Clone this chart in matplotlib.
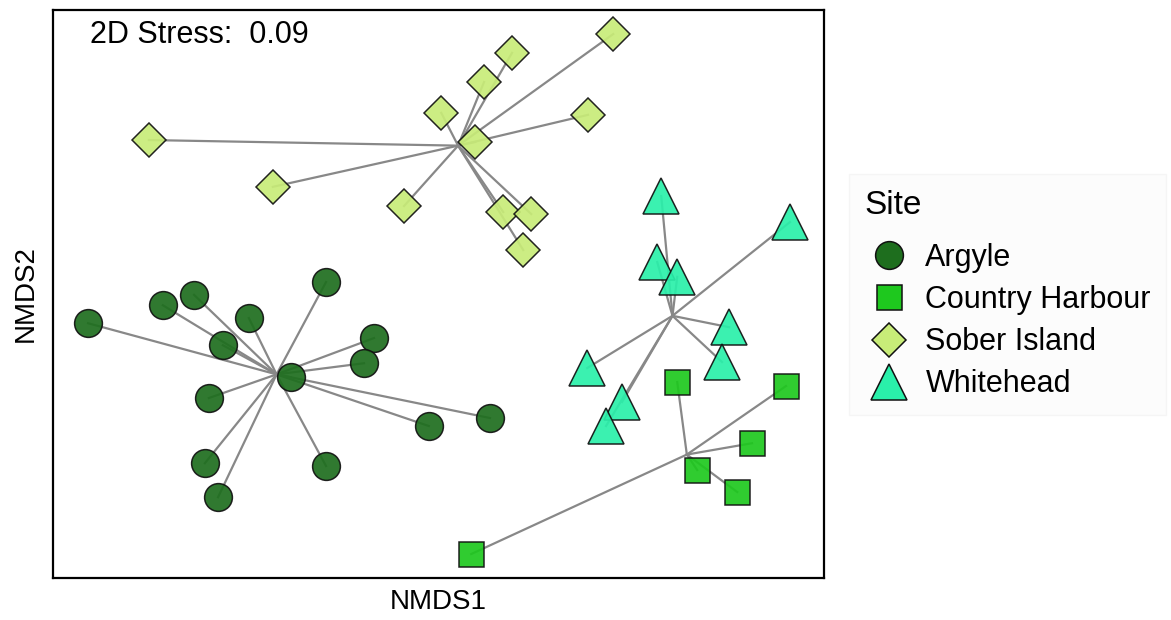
import numpy as np
import matplotlib.pyplot as plt
from matplotlib.lines import Line2D

plt.rcParams['font.family'] = ['Liberation Sans', 'DejaVu Sans']

# NMDS scores
argyle_x = [-0.875, -0.688, -0.610, -0.473, -0.538, -0.280, -0.160, -0.185,
            -0.368, -0.573, -0.023, 0.130, -0.583, -0.280, -0.550]
argyle_y = [-0.058, -0.013, 0.013, -0.045, -0.113, 0.045, -0.095, -0.158,
            -0.193, -0.245, -0.315, -0.295, -0.408, -0.415, -0.493]

harbour_x = [0.598, 0.870, 0.785, 0.648, 0.748, 0.083]
harbour_y = [-0.205, -0.215, -0.358, -0.425, -0.480, -0.635]

sober_x = [-0.723, -0.413, -0.085, 0.008, 0.115, 0.185, 0.438, 0.375,
           0.093, 0.163, 0.233, 0.213]
sober_y = [0.400, 0.283, 0.235, 0.468, 0.545, 0.618, 0.665, 0.463,
           0.395, 0.220, 0.215, 0.125]

white_x = [0.558, 0.880, 0.548, 0.598, 0.728, 0.710, 0.373, 0.460, 0.420]
white_y = [0.260, 0.195, 0.095, 0.058, -0.068, -0.155, -0.170, -0.255, -0.315]

sites = ["Argyle", "Country Harbour", "Sober Island", "Whitehead"]
colors = ["#1e6e1e", "#1ec81e", "#c8ec78", "#2af0aa"]
markers = ["o", "s", "D", "^"]
sizes = [20, 18, 17, 26]
stress = 0.09

data = [(argyle_x, argyle_y), (harbour_x, harbour_y),
        (sober_x, sober_y), (white_x, white_y)]

fig = plt.figure(figsize=(11.71, 6.2), dpi=100)
ax = fig.add_axes([0.0453, 0.0677, 0.6584, 0.9161])

# spider lines from the group centroid
for (xs, ys) in data:
    xs = np.array(xs); ys = np.array(ys)
    cx, cy = xs.mean(), ys.mean()
    for x, y in zip(xs, ys):
        ax.plot([cx, x], [cy, y], color="#888888", lw=1.6, zorder=1)

for (xs, ys), c, m, s in zip(data, colors, markers, sizes):
    ax.plot(xs, ys, linestyle="none", marker=m, markersize=s,
            markerfacecolor=c, markeredgecolor="#111111", markeredgewidth=1.1,
            alpha=0.92, zorder=2)

ax.set_xlim(-0.9625, 0.965)
ax.set_ylim(-0.695, 0.725)
ax.set_xticks([])
ax.set_yticks([])
for sp in ax.spines.values():
    sp.set_linewidth(1.6)
    sp.set_color("black")
ax.set_xlabel("NMDS1", fontsize=20, labelpad=8)
ax.set_ylabel("NMDS2", fontsize=20, labelpad=10)
ax.text(0.048, 0.956, "2D Stress:  {:.2f}".format(stress), transform=ax.transAxes,
        fontsize=22, va="center", ha="left")

handles = [Line2D([], [], linestyle="none", marker=m, markersize=s,
                  markerfacecolor=c, markeredgecolor="#111111", markeredgewidth=1.1)
           for c, m, s in zip(colors, markers, sizes)]
leg = fig.legend(handles, sites, title="Site", loc="center left",
                 bbox_to_anchor=(0.712, 0.525), fontsize=22, title_fontsize=24,
                 frameon=True, facecolor="#fcfcfc", edgecolor="#f4f4f4",
                 handlelength=1.6, handletextpad=0.4, labelspacing=0.4,
                 borderpad=0.5, alignment="left", fancybox=False)
leg._legend_box.sep = 16

fig.savefig("out.png", dpi=100)
